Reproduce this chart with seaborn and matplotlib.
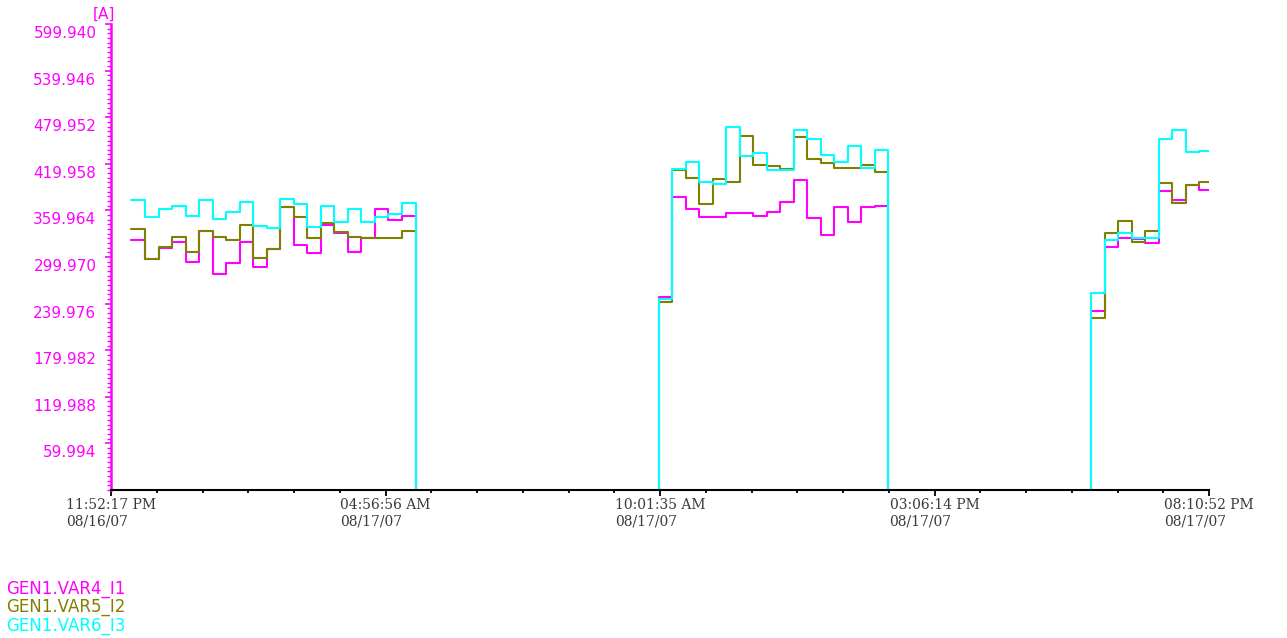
import numpy as np
import pandas as pd
import matplotlib
matplotlib.use("Agg")
import matplotlib.pyplot as plt
import matplotlib.transforms as mtransforms
import seaborn as sns

# series and colours
series_names = ["GEN1.VAR4_I1", "GEN1.VAR5_I2", "GEN1.VAR6_I3"]
series_colors = ["#ff00ff", "#808000", "#00ffff"]

# segment 1 : samples every 15 min from 00:15 (no rise from 0, drops to 0 at the end)
seg1_start = "2007-08-17 00:15"
seg1_end = "2007-08-17 05:31"
seg1_i1 = [321.9, 297.4, 311.9, 319.7, 293.1, 333.8, 277.7, 292.6, 319.7, 286.7, 309.9,
           364.8, 315.4, 304.7, 341.2, 331.0, 306.8, 324.8, 361.4, 347.6, 353.1]
seg1_i2 = [335.6, 297.0, 313.2, 325.3, 306.8, 333.8, 325.3, 321.9, 341.2, 298.3, 309.9,
           363.9, 351.9, 324.0, 344.1, 331.8, 326.1, 324.8, 324.8, 324.0, 333.8]
seg1_i3 = [373.3, 351.1, 361.4, 365.6, 353.1, 373.3, 348.9, 358.3, 371.2, 340.3, 336.9,
           374.2, 367.8, 338.2, 365.6, 344.6, 361.4, 344.6, 351.9, 354.9, 369.9]

# segment 2 : from 10:00 (rises from 0, drops to 0)
seg2_start = "2007-08-17 10:00"
seg2_end = "2007-08-17 14:15"
seg2_i1 = [248.5, 377.6, 361.8, 351.9, 351.9, 357.0, 357.0, 352.7, 358.3, 371.2, 399.1,
           349.8, 328.3, 364.8, 345.4, 363.9, 365.6]
seg2_i2 = [242.0, 412.5, 401.3, 368.2, 400.0, 397.0, 455.7, 418.4, 417.5, 412.9, 454.0,
           425.7, 420.6, 414.2, 414.2, 418.4, 409.8]
seg2_i3 = [246.0, 413.3, 421.9, 397.0, 393.6, 467.7, 430.4, 433.5, 412.0, 412.0, 463.5,
           451.5, 431.3, 422.7, 442.9, 414.2, 437.7]

# segment 3 : from 18:00 (rises from 0, runs to the end of the axis)
seg3_start = "2007-08-17 18:00"
seg3_end = "2007-08-17 20:10:52"
seg3_i1 = [230.8, 313.2, 324.0, 323.0, 318.4, 384.9, 373.3, 392.7, 386.2]
seg3_i2 = [221.0, 331.3, 346.7, 319.7, 333.8, 394.8, 369.9, 392.7, 397.0]
seg3_i3 = [253.2, 321.9, 331.3, 324.0, 324.0, 451.5, 463.5, 434.7, 436.8]

# axis
x_start = "2007-08-16 23:52:17"
x_end = "2007-08-17 20:10:52"
x_tick_labels = ["11:52:17 PM\n08/16/07", "04:56:56 AM\n08/17/07", "10:01:35 AM\n08/17/07",
                 "03:06:14 PM\n08/17/07", "08:10:52 PM\n08/17/07"]
y_tick_values = [59.994, 119.988, 179.982, 239.976, 299.970, 359.964,
                 419.958, 479.952, 539.946, 599.940]
y_tick_labels = ["59.994", "119.988", "179.982", "239.976", "299.970", "359.964",
                 "419.958", "479.952", "539.946", "599.940"]
y_unit = "[A]"

# build long table: one row per point, segments kept apart with "segment"
segments = [
    (seg1_start, seg1_end, [seg1_i1, seg1_i2, seg1_i3], False, True),
    (seg2_start, seg2_end, [seg2_i1, seg2_i2, seg2_i3], True, True),
    (seg3_start, seg3_end, [seg3_i1, seg3_i2, seg3_i3], True, False),
]
rows = []
for k, (start, end, values, rise, drop) in enumerate(segments):
    for name, vals in zip(series_names, values):
        times = pd.date_range(start, periods=len(vals), freq="15min")
        if rise:
            rows.append((times[0], 0.0, name, k))
        for t, v in zip(times, vals):
            rows.append((t, v, name, k))
        rows.append((pd.Timestamp(end), vals[-1], name, k))
        if drop:
            rows.append((pd.Timestamp(end), 0.0, name, k))
df = pd.DataFrame(rows, columns=["time", "value", "series", "segment"])

sns.set_style("white")
fig = plt.figure(figsize=(12.87, 6.38), dpi=100)
ax = fig.add_axes([111 / 1287, 148 / 638, 1098 / 1287, 466 / 638])

sns.lineplot(data=df, x="time", y="value", hue="series", units="segment",
             estimator=None, sort=False, hue_order=series_names,
             palette=series_colors, drawstyle="steps-post", linewidth=1.5,
             legend=False, ax=ax)

ax.set_xlim(pd.Timestamp(x_start), pd.Timestamp(x_end))
ax.set_ylim(0, 599.94)
ax.set_xlabel("")
ax.set_ylabel("")

# spines
ax.spines["top"].set_visible(False)
ax.spines["right"].set_visible(False)
ax.spines["left"].set_color("#ff00ff")
ax.spines["left"].set_linewidth(1.8)
ax.spines["bottom"].set_color("black")
ax.spines["bottom"].set_linewidth(1.5)

# x ticks
ax.set_xticks(pd.date_range(x_start, x_end, periods=5))
ax.set_xticks(pd.date_range(x_start, x_end, periods=25), minor=True)
ax.set_xticklabels(x_tick_labels, ha="center", multialignment="left",
                   family="DejaVu Serif", fontsize=10, color="#3a3a3a", linespacing=1.2)
ax.tick_params(axis="x", which="major", direction="out", length=4.5, width=1.3,
               color="black", pad=1.5, bottom=True)
ax.tick_params(axis="x", which="minor", direction="out", length=2.5, width=1.3,
               color="black", bottom=True)

# y ticks
ax.set_yticks(y_tick_values)
ax.set_yticks(np.linspace(0, 599.94, 101), minor=True)
ax.set_yticklabels(y_tick_labels, family="DejaVu Sans", fontsize=11, color="#ff00ff")
ax.tick_params(axis="y", which="major", direction="out", length=4.5, width=1.2,
               color="#ff00ff", pad=6, left=True)
ax.tick_params(axis="y", which="minor", direction="out", length=2.8, width=1.0,
               color="#ff00ff", left=True)
shift = mtransforms.ScaledTranslation(0, -8 / 100, fig.dpi_scale_trans)
for lab in ax.get_yticklabels():
    lab.set_transform(lab.get_transform() + shift)

ax.grid(False)

# unit label
fig.text(93 / 1287, 1 - 14 / 638, y_unit, color="#ff00ff", fontsize=11,
         family="DejaVu Sans", va="center", ha="left")

# legend as coloured text lines
for i, (name, col) in enumerate(zip(series_names, series_colors)):
    fig.text(6 / 1287, 1 - (589 + i * 18.5) / 638, name, color=col, fontsize=12,
             family="DejaVu Sans", va="center", ha="left")

fig.savefig("out.png", dpi=100, facecolor="white")
